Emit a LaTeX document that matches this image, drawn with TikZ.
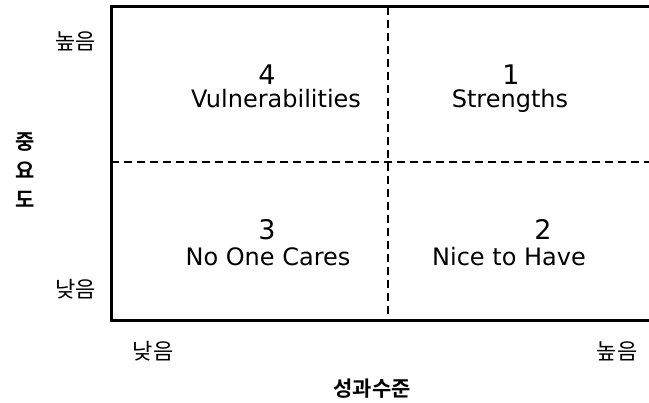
\documentclass[tikz,border=0pt]{standalone}
\usepackage{fontspec}
\setmainfont{DejaVu Sans}
\newfontfamily\kr{Noto Sans CJK KR}
\newfontfamily\krb{Noto Sans CJK KR}[BoldFont={* Bold}]
\begin{document}
\begin{tikzpicture}[x=1pt,y=-1pt,
  frame/.style={line width=3pt},
  divider/.style={line width=2.4pt,dash pattern=on 8pt off 5pt},
  quad/.style={inner sep=0pt,anchor=base,font=\fontsize{24}{28}\selectfont},
  num/.style={inner sep=0pt,anchor=base,font=\fontsize{27}{30}\selectfont},
  tick/.style={inner sep=0pt,font=\kr\fontsize{22}{26}\selectfont},
  axis/.style={inner sep=0pt,font=\krb\bfseries\fontsize{21}{24}\selectfont}]
\useasboundingbox (0,0) rectangle (649,403);
\coordinate (tl) at (111,7);
\coordinate (tr) at (649,7);
\coordinate (bl) at (111,321);
\coordinate (br) at (649,321);
\coordinate (vt) at (388,7);
\coordinate (vb) at (388,321);
\coordinate (hl) at (111,162);
\coordinate (hr) at (649,162);
\draw[frame] (tr) -- (tl) -- (bl) -- (br);
\draw[divider] (vt) -- (vb);
\draw[divider] (hl) -- (hr);
% quadrant texts
\node[num] (n4) at (267,85) {4};
\node[quad] (t4) at (276,108) {Vulnerabilities};
\node[num] (n1) at (511,85) {1};
\node[quad] (t1) at (510,108) {Strengths};
\node[num] (n3) at (267,240) {3};
\node[quad] (t3) at (268,266) {No One Cares};
\node[num] (n2) at (543,240) {2};
\node[quad] (t2) at (509,266) {Nice to Have};
% tick labels
\node[tick] (yh) at (76,41) {높음};
\node[tick] (yl) at (76,289) {낮음};
\node[tick] (xl) at (153,351) {낮음};
\node[tick] (xh) at (617,351) {높음};
% axis titles
\node[axis] (ya1) at (25,142) {중};
\node[axis] (ya2) at (25,170) {요};
\node[axis] (ya3) at (25,199) {도};
\node[axis] (xa) at (372,389) {성과수준};
\end{tikzpicture}
\end{document}
